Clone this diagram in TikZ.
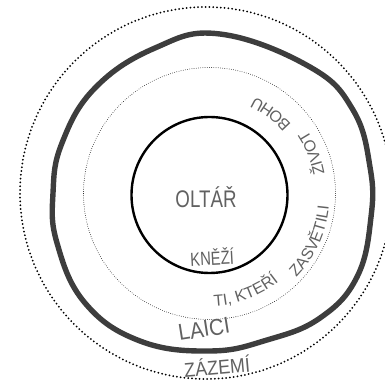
\documentclass[tikz,border=0pt]{standalone}
\usepackage{fontspec}
\setmainfont{Liberation Sans}
\newfontfamily\hand{Liberation Sans}[FakeStretch=0.78]
\newfontfamily\handwide{Liberation Sans}[FakeStretch=0.9]
\usetikzlibrary{decorations.text}
\tikzset{
  inkline/.style={draw=black, line width=2.4pt},
  thickring/.style={draw=black!76, line width=5.4pt, line join=round},
  finedots/.style={draw=black, line width=0.8pt, dash pattern=on 0pt off 2.2pt, line cap=round},
  bigdots/.style={draw=black, line width=2pt, dash pattern=on 0pt off 3.8pt, line cap=round},
  handtext/.style={text=black!62, font=\hand, inner sep=1pt},
  arctext/.style={decorate, decoration={text along path, text align=center,
     text={|\rmfamily\color{black!62}\fontsize{16}{16}\selectfont|#1}}}
}
\begin{document}
\begin{tikzpicture}[x=1pt,y=1pt]
\useasboundingbox (0,0) rectangle (385,383);
\clip (0,0) rectangle (385,383);
\coordinate (c) at (209.5,188);
% outer dotted circle
\draw[bigdots] (206,190) circle[radius=186];
% thick hand-drawn ring
\draw[thickring] plot[smooth cycle, tension=0.7] coordinates {
 (220,349) (310,316) (353,273) (370,216) (371,166) (357,106) (320,65)
 (267,43) (210,32) (140,42) (85,80) (57,140) (53,190) (62,240) (95,295) (155,335)};
% dotted middle circle
\draw[finedots] (209.5,189.5) circle[radius=126];
% inner circle
\node[circle, inkline, minimum size=156pt, inner sep=0pt] (altar) at (c) {};
% labels
\node[handtext, font=\hand\fontsize{24}{24}\selectfont] (oltar) at (206,186) {OLTÁŘ};
\node[handtext, font=\hand\fontsize{19}{19}\selectfont, rotate=3] (knezi) at (212,126) {KNĚŽÍ};
\node[handtext, font=\handwide\fontsize{23}{23}\selectfont, rotate=9] (laici) at (204,54) {LAICI};
\node[handtext, font=\handwide\fontsize{20}{20}\selectfont, rotate=5] (zazemi) at (217,17) {ZÁZEMÍ};
% text along arc
\path[arctext={TI, KTEŘÍ}] (c) ++(-89:111) arc[start angle=-89, end angle=-50, radius=111];
\path[arctext={ZASVĚTILI}] (c) ++(-47:120) arc[start angle=-47, end angle=-2, radius=120];
\path[arctext={ŽIVOT}] (c) ++(9:117) arc[start angle=9, end angle=35, radius=117];
\path[arctext={BOHU}] (c) ++(38:108) arc[start angle=38, end angle=68, radius=108];
\end{tikzpicture}
\end{document}
